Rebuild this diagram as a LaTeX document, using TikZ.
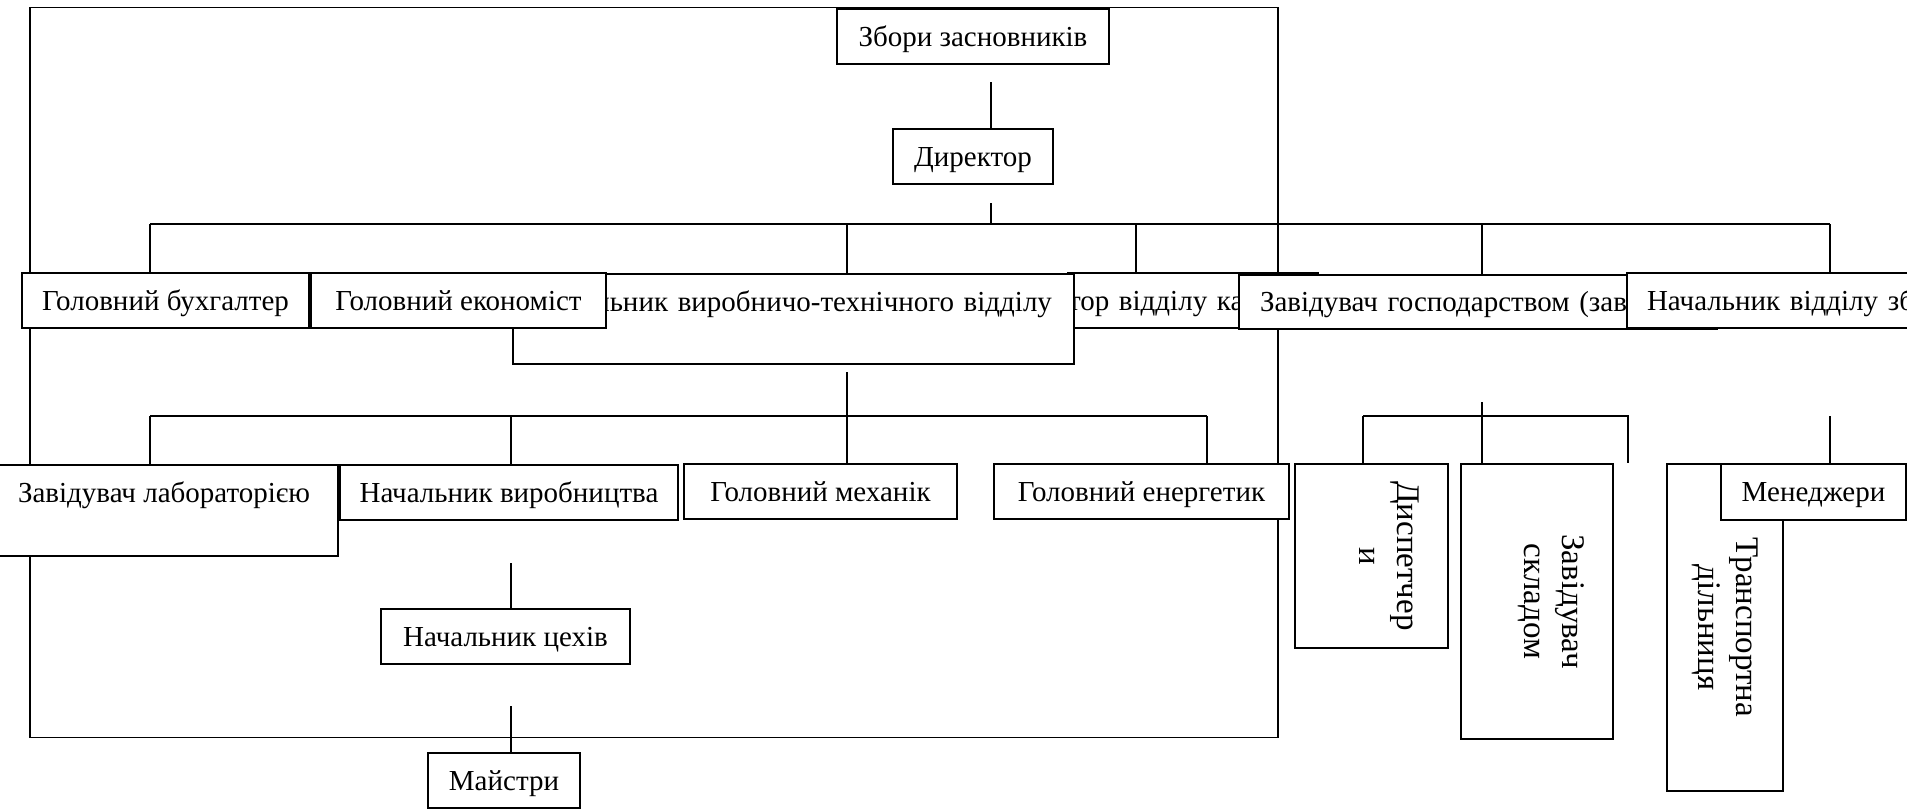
\documentclass[tikz,border=0pt]{standalone}
\usepackage{fontspec}
\usepackage{graphicx}
\setmainfont{Liberation Serif}
\usepackage{tikz}
\usetikzlibrary{positioning}
\tikzset{
  block/.style={
    rectangle, draw=black, fill=white, line width=2pt, inner sep=0pt,
    anchor=north west, minimum height=55pt, text height=19.2pt, text depth=0pt,
    font=\fontsize{29}{33}\selectfont
  },
  vblock/.style={
    rectangle, draw=black, fill=white, line width=2pt, inner sep=0pt,
    anchor=north west, font=\fontsize{33}{38}\selectfont
  },
  link/.style={line width=1.5pt},
  frameline/.style={line width=1.3pt}
}
\newcommand{\vtext}[1]{\rotatebox{-90}{\begin{tabular}{@{}c@{}}#1\end{tabular}}}

\begin{document}
\begin{tikzpicture}[x=1pt, y=-1pt]

  \useasboundingbox (0,0) rectangle (1907,811);
  \clip (0,0) rectangle (1907,811);

  % Рамка
  \draw[frameline] (30,7.5) rectangle (1278,737.5);

  % Вузли: верх
  \node[block, minimum width=272] (zbory) at (836,8) {Збори засновників};
  \node[block, minimum width=160] (dir) at (892,128) {Директор};

  % Вузли: перший ряд
  \node[block, minimum width=250, text width=250, align=left] (kadr) at (1067,272)
    {тор відділу ка};
  \node[block, minimum width=561, minimum height=90, text depth=35pt,
    inner xsep=22pt, text width=517, align=right] (ptv) at (512,273)
    {льник виробничо-технічного відділу};
  \node[block, minimum width=287] (buh) at (21,272) {Головний бухгалтер};
  \node[block, minimum width=295] (econ) at (buh.north east) {Головний економіст};
  \node[block, minimum width=478, minimum height=54, inner xsep=21pt,
    text width=436, align=left] (zavg) at (1238,274)
    {Завідувач господарством (зав};
  \node[block, inner xsep=20pt, text width=420, align=left] (zbut) at (1626,272)
    {Начальник відділу зб};

  % Вузли: другий ряд
  \node[block, minimum width=348, minimum height=91, text depth=36pt] (lab) at (-11,464)
    {Завідувач лабораторією};
  \node[block, minimum width=338] (vyr) at (lab.north east) {Начальник виробництва};
  \node[block, minimum width=273] (mech) at (683,463) {Головний механік};
  \node[block, minimum width=295] (energ) at (993,463) {Головний енергетик};

  \node[vblock, minimum width=153, minimum height=184] (disp) at (1294,463)
    {\hspace*{30pt}\vtext{Диспетчер\\и}};
  \node[vblock, minimum width=152, minimum height=275] (skl) at (1460,463)
    {\hspace*{28pt}\vtext{Завідувач\\складом}};
  \node[vblock, minimum width=116, minimum height=327] (trans) at (1666,463)
    {\vtext{Транспортна\\дільниця}};
  \node[block, minimum width=185, minimum height=56] (men) at (1720,463) {Менеджери};

  % Вузли: низ
  \node[block, minimum width=249] (ceh) at (380,608) {Начальник цехів};
  \node[block, minimum width=152] (maj) at (427,752) {Майстри};

  % Точки шин
  \coordinate (spine) at (991,224);
  \coordinate (b0) at (150,224);
  \coordinate (b1) at (847,224);
  \coordinate (b3) at (1136,224);
  \coordinate (b4) at (1482,224);
  \coordinate (b5) at (1830,224);
  \coordinate (c0) at (150,416);
  \coordinate (c2) at (511,416);
  \coordinate (c1) at (847,416);
  \coordinate (c3) at (1207,416);
  \coordinate (d0) at (1363,416);
  \coordinate (d1) at (1482,416);
  \coordinate (d2) at (1628,416);
  \coordinate (d3) at (1628,463);
  \coordinate (e0) at (1830,416);

  % Лінії
  \draw[link] (zbory.south -| spine) ++(0,17) -- (dir.north -| spine);
  \draw[link] (dir.south -| spine) ++(0,18) -- (spine);
  \draw[link] (b0) -- (b5);
  \foreach \p/\n in {b0/buh, b1/ptv, b3/kadr, b4/zavg, b5/zbut}
    \draw[link] (\p) -- (\p |- \n.north);

  \draw[link] (ptv.south -| c1) ++(0,7) -- (c1);
  \draw[link] (c0) -- (c3);
  \foreach \p/\n in {c0/lab, c2/vyr, c1/mech, c3/energ}
    \draw[link] (\p) -- (\p |- \n.north);

  \draw[link] (zavg.south -| d1) ++(0,72) -- (d1 |- skl.north);
  \draw[link] (d0) -- (d2) -- (d3);
  \draw[link] (d0) -- (d0 |- disp.north);
  \draw[link] (e0) -- (e0 |- men.north);

  \draw[link] (vyr.south -| c2) ++(0,42) -- (ceh.north -| c2);
  \draw[link] (ceh.south -| c2) ++(0,41) -- (maj.north -| c2);

\end{tikzpicture}
\end{document}
